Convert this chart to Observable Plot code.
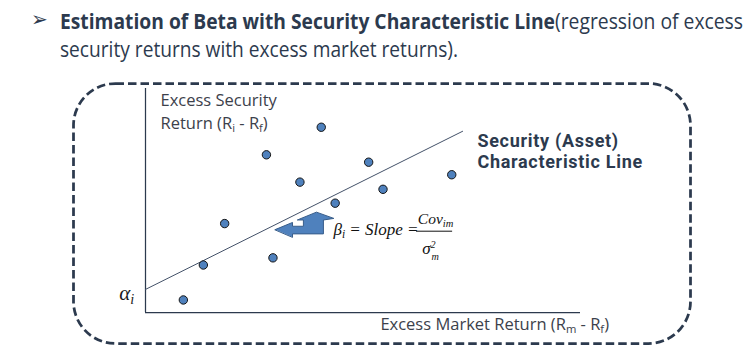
<!DOCTYPE html>
<html>
<head>
<meta charset="utf-8">
<script src="https://cdn.jsdelivr.net/npm/d3@7"></script>
<script src="https://cdn.jsdelivr.net/npm/@observablehq/plot@0.6"></script>
<style>
  html, body { margin: 0; padding: 0; background: #fff; }
  #title { position: relative; height: 72px; width: 753px; color: #2C3A4E; font-family: "Open Sans", "Noto Sans", sans-serif; overflow: hidden; }
  #bullet { position: absolute; left: 31px; top: 7px; font-family: "DejaVu Sans", sans-serif; font-size: 20px; line-height: 24px; }
  .tl { position: absolute; display: inline-block; font-size: 22px; line-height: 28px; white-space: nowrap; transform-origin: 0 0; }
  #t1 { left: 60px; top: 6px; font-weight: 700; }
  #t2 { left: 555px; top: 6px; }
  #t3 { left: 60px; top: 34px; }
  #chart svg { display: block; }
</style>
</head>
<body>
<div id="title">
  <span id="bullet">➢</span>
  <span class="tl" id="t1">Estimation of Beta with Security Characteristic Line</span>
  <span class="tl" id="t2">(regression of excess</span>
  <span class="tl" id="t3">security returns with excess market returns).</span>
</div>
<div id="chart"></div>
<script>
// Excess market return (x) and excess security return (y) of the scatter points
const marketExcess   = [0.87, 1.33, 1.82, 2.78, 2.93, 3.55, 4.04, 4.36, 5.13, 5.46, 7.04];
const securityExcess = [0.56, 2.12, 3.97, 7.04, 2.44, 5.82, 8.27, 4.88, 6.71, 5.50, 6.15];
// Security characteristic line endpoints
const lineMarket   = [0, 7.29];
const lineSecurity = [1.03, 8.09];
// Block arrow outline (in data units)
const arrowX = [2.98, 3.38, 3.38, 3.63, 3.63, 3.49, 3.93, 4.33, 4.09, 4.09, 3.38, 3.38];
const arrowY = [3.70, 4.02, 3.85, 3.85, 4.13, 4.13, 4.48, 4.20, 4.13, 3.51, 3.51, 3.37];
// Labels
const yLabel = "Excess Security\nReturn (R_{i} - R_{f})";
const xLabel = "Excess Market Return (R_{m} - R_{f})";
const lineLabel = "Security (Asset)\nCharacteristic Line";
const alphaLabel = "α_{i}";
const betaLabel = "β_{i} = Slope =";
const numLabel = "Cov_{im}";
const denLabel = "σ^{2}_{m}";

const points = marketExcess.map((x, i) => ({x, y: securityExcess[i]}));
const scl = lineMarket.map((x, i) => ({x, y: lineSecurity[i]}));
const arrow = arrowX.map((x, i) => ({x, y: arrowY[i]}));

const ink = "#2C3A4E";
const gray = "#3C414B";
const sans = "'Open Sans', 'Noto Sans', sans-serif";
const boldSans = "Roboto, 'Open Sans', sans-serif";
const serif = "'Liberation Serif', 'DejaVu Serif', serif";

const chart = Plot.plot({
  width: 753,
  height: 282,
  marginLeft: 145,
  marginRight: 173,
  marginTop: 16,
  marginBottom: 42,
  x: {domain: [0, 10], axis: null},
  y: {domain: [0, 10], axis: null},
  style: {background: "transparent", overflow: "visible"},
  marks: [
    Plot.frame({insetLeft: -72, insetRight: -110, insetTop: -5, insetBottom: -31, rx: 42, ry: 42,
      stroke: ink, strokeWidth: 2.75, strokeDasharray: "8.5,4", fill: "none"}),
    Plot.ruleX([0], {y1: 0, y2: 10, stroke: ink, strokeWidth: 1.25}),
    Plot.ruleY([0], {x1: 0, x2: 10, stroke: ink, strokeWidth: 1.25}),
    Plot.line(scl, {x: "x", y: "y", stroke: "#435168", strokeWidth: 1}),
    Plot.line(arrow, {x: "x", y: "y", curve: "linear-closed", fill: "#4F81BD", stroke: "#385D8A", strokeWidth: 1}),
    Plot.dot(points, {x: "x", y: "y", r: 4.2, fill: "#4F81BD", stroke: "#151515", strokeWidth: 1}),
    Plot.text([yLabel], {x: 0.345, y: 8.19, text: d => d, textAnchor: "start", lineAnchor: "bottom",
      fontSize: 16.5, lineHeight: 1.41, fill: gray, fontFamily: sans}),
    Plot.text([xLabel], {x: 5.40, y: -0.80, text: d => d, textAnchor: "start", lineAnchor: "bottom",
      fontSize: 16.5, fill: gray, fontFamily: sans}),
    Plot.text([lineLabel], {x: 7.63, y: 6.44, text: d => d, textAnchor: "start", lineAnchor: "bottom",
      fontSize: 18, lineHeight: 1.18, fontWeight: "bold", fill: ink, fontFamily: boldSans}),
    Plot.text([alphaLabel], {x: -0.26, y: 0.58, text: d => d, textAnchor: "end", lineAnchor: "bottom",
      fontSize: 21, fontStyle: "italic", fill: "#1a1a1a", fontFamily: serif}),
    Plot.text([betaLabel], {x: 4.32, y: 3.44, text: d => d, textAnchor: "start", lineAnchor: "bottom",
      fontSize: 17, fontStyle: "italic", fill: "#111", fontFamily: serif}),
    Plot.text([numLabel], {x: 6.26, y: 3.93, text: d => d, textAnchor: "start", lineAnchor: "bottom",
      fontSize: 15.5, fontStyle: "italic", fill: "#111", fontFamily: serif}),
    Plot.ruleY([3.63], {x1: 6.23, x2: 7.06, stroke: "#111", strokeWidth: 1}),
    Plot.text([denLabel], {x: 6.36, y: 2.62, text: d => d, textAnchor: "start", lineAnchor: "bottom",
      fontSize: 17, fontStyle: "italic", fill: "#111", fontFamily: serif})
  ]
});

// Turn _{..} / ^{..} markers into sub/superscript tspans (a sub right after a sup is stacked under it)
(function richify(svg) {
  const ns = "http://www.w3.org/2000/svg";
  svg.querySelectorAll("text, tspan").forEach(el => {
    if (el.children.length) return;
    const s = el.textContent;
    if (!/[_^]\{/.test(s)) return;
    el.textContent = "";
    const re = /([_^])\{([^}]*)\}/g;
    let last = 0, m, prevSup = null;
    const plain = str => { const t = document.createElementNS(ns, "tspan"); t.textContent = str; el.appendChild(t); };
    while ((m = re.exec(s))) {
      if (m.index > last) { plain(s.slice(last, m.index)); prevSup = null; }
      const t = document.createElementNS(ns, "tspan");
      const stacked = m[1] === "_" && prevSup !== null && m.index === last;
      const hasSub = m[1] === "^" && s.slice(re.lastIndex, re.lastIndex + 2) === "_{";
      if (m[1] === "_") {
        t.setAttribute("font-size", stacked ? "0.6em" : "0.68em");
        t.setAttribute("baseline-shift", stacked ? "-0.6em" : "-0.3em");
        if (stacked) t.setAttribute("dx", (-0.5 * prevSup.length + 0.1) + "em");
        prevSup = null;
      } else {
        t.setAttribute("font-size", hasSub ? "0.6em" : "0.68em");
        t.setAttribute("baseline-shift", hasSub ? "0.6em" : "0.45em");
        prevSup = m[2];
      }
      t.textContent = m[2];
      el.appendChild(t);
      last = re.lastIndex;
    }
    if (last < s.length) plain(s.slice(last));
  });
})(chart);

// Slightly wider tracking for the bold line label, as on the slide
d3.select(chart).selectAll("text").filter(function () { return /Characteristic/.test(this.textContent); })
  .style("letter-spacing", "0.7px");

document.getElementById("chart").appendChild(chart);

// Fit the title runs to the widths they take in the slide
[["t1", 495], ["t2", 188], ["t3", 398]].forEach(([id, target]) => {
  const el = document.getElementById(id);
  const w = el.getBoundingClientRect().width;
  if (w > 0) el.style.transform = `scaleX(${target / w})`;
});
</script>
</body>
</html>
